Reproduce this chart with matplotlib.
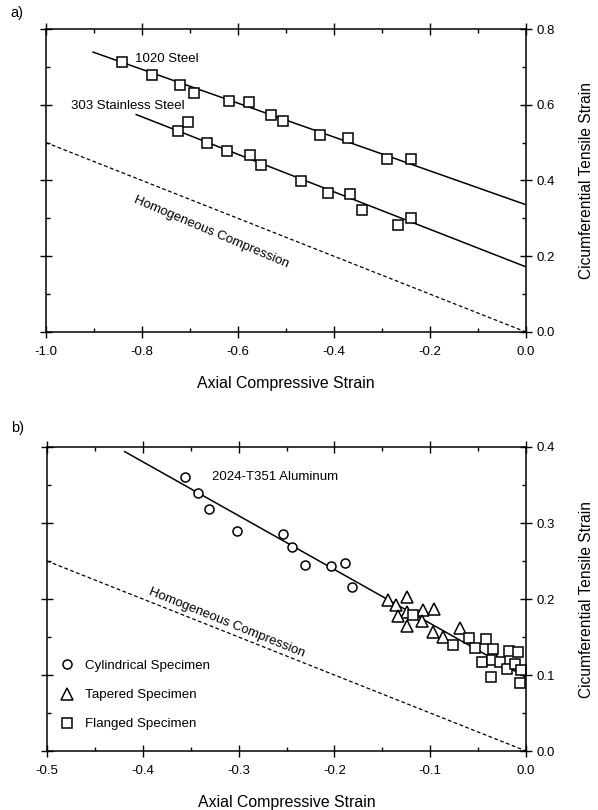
import numpy as np
import matplotlib
matplotlib.use('Agg')
import matplotlib.pyplot as plt
from matplotlib.ticker import MultipleLocator, FormatStrFormatter

plt.rcParams['font.family'] = ['Liberation Sans', 'DejaVu Sans']
plt.rcParams['axes.unicode_minus'] = False

# ---- panel a) data ----
steel1020_x = [-0.842, -0.780, -0.720, -0.692, -0.619, -0.578, -0.532, -0.506,
               -0.430, -0.370, -0.290, -0.239]
steel1020_y = [0.713, 0.678, 0.652, 0.631, 0.610, 0.606, 0.573, 0.557,
               0.521, 0.511, 0.456, 0.456]
fit1020_x = [-0.902, 0.0]
fit1020_y = [0.739, 0.336]

ss303_x = [-0.726, -0.704, -0.664, -0.622, -0.574, -0.553, -0.469, -0.413,
           -0.366, -0.341, -0.266, -0.239]
ss303_y = [0.530, 0.555, 0.499, 0.477, 0.467, 0.441, 0.400, 0.367,
           0.365, 0.323, 0.283, 0.301]
fit303_x = [-0.812, 0.0]
fit303_y = [0.574, 0.172]

homog_a_x = [-1.0, 0.0]
homog_a_y = [0.5, 0.0]

# ---- panel b) data ----
cyl_x = [-0.356, -0.342, -0.331, -0.302, -0.254, -0.244, -0.231, -0.204, -0.189, -0.182]
cyl_y = [0.360, 0.339, 0.319, 0.289, 0.285, 0.269, 0.245, 0.244, 0.247, 0.216]

tap_x = [-0.144, -0.136, -0.124, -0.124, -0.134, -0.124, -0.107, -0.096,
         -0.109, -0.097, -0.087, -0.069]
tap_y = [0.199, 0.192, 0.202, 0.183, 0.177, 0.165, 0.186, 0.187,
         0.171, 0.156, 0.150, 0.162]

fla_x = [-0.118, -0.076, -0.059, -0.053, -0.042, -0.034, -0.046, -0.035,
         -0.037, -0.027, -0.018, -0.020, -0.012, -0.008, -0.005, -0.006]
fla_y = [0.179, 0.139, 0.149, 0.135, 0.147, 0.134, 0.117, 0.120,
         0.097, 0.117, 0.131, 0.108, 0.115, 0.130, 0.106, 0.090]

fitAl_x = [-0.419, 0.0]
fitAl_y = [0.394, 0.097]

homog_b_x = [-0.5, 0.0]
homog_b_y = [0.25, 0.0]

W, H = 598, 810
fig = plt.figure(figsize=(W / 100, H / 100), dpi=100)


def px_axes(l, t, r, b):
    return fig.add_axes([l / W, 1 - b / H, (r - l) / W, (b - t) / H])


def style_axes(ax, xmaj, xmin, ymaj, ymin):
    ax.xaxis.set_major_locator(MultipleLocator(xmaj))
    ax.xaxis.set_minor_locator(MultipleLocator(xmin))
    ax.yaxis.set_major_locator(MultipleLocator(ymaj))
    ax.yaxis.set_minor_locator(MultipleLocator(ymin))
    ax.xaxis.set_major_formatter(FormatStrFormatter('%.1f'))
    ax.yaxis.set_major_formatter(FormatStrFormatter('%.1f'))
    ax.tick_params(which='major', direction='inout', length=8.5, width=1.0,
                   top=True, right=True, left=True, bottom=True,
                   labelleft=False, labelright=True, labelsize=9.5)
    ax.tick_params(axis='x', which='major', pad=5.5)
    ax.tick_params(axis='y', which='major', pad=3)
    ax.tick_params(which='minor', direction='in', length=3, width=1.0,
                   top=True, right=True, left=True, bottom=True)
    for s in ax.spines.values():
        s.set_linewidth(1.1)
    ax.yaxis.set_label_position('right')
    ax.set_xlabel('Axial Compressive Strain', fontsize=11.4, labelpad=13)
    ax.set_ylabel('Cicumferential Tensile Strain', fontsize=11.2, labelpad=17.5)


sq = dict(marker='s', ms=7.3, mfc='white', mec='black', mew=1.1, ls='none', clip_on=False)

# ---- panel a ----
ax1 = px_axes(46, 29, 526, 332)
ax1.plot(fit1020_x, fit1020_y, color='black', lw=1.1)
ax1.plot(fit303_x, fit303_y, color='black', lw=1.1)
ax1.plot(homog_a_x, homog_a_y, color='black', lw=0.9, ls=(0, (3, 2)))
ax1.plot(steel1020_x, steel1020_y, **sq)
ax1.plot(ss303_x, ss303_y, **sq)
ax1.text(-0.814, 0.722, '1020 Steel', fontsize=9.5, va='center', ha='left')
ax1.text(-0.948, 0.598, '303 Stainless Steel', fontsize=9.5, va='center', ha='left')
ax1.text(-0.812, 0.364, 'Homogeneous Compression', fontsize=9.5, rotation=-23,
         rotation_mode='anchor', ha='left', va='top')
ax1.set_xlim(-1.0, 0.0)
ax1.set_ylim(0.0, 0.8)
style_axes(ax1, 0.2, 0.1, 0.2, 0.1)
fig.text(17 / W, 1 - 13 / H, 'a)', fontsize=10.5, ha='center', va='center')

# ---- panel b ----
ax2 = px_axes(47, 447, 526, 751)
ax2.plot(fitAl_x, fitAl_y, color='black', lw=1.1)
ax2.plot(homog_b_x, homog_b_y, color='black', lw=0.9, ls=(0, (3, 2)))
ax2.plot(cyl_x, cyl_y, marker='o', ms=6.5, mfc='white', mec='black', mew=1.1,
         ls='none', clip_on=False, label='Cylindrical Specimen')
ax2.plot(tap_x, tap_y, marker='^', ms=8, mfc='white', mec='black', mew=1.1,
         ls='none', clip_on=False, label='Tapered Specimen')
ax2.plot(fla_x, fla_y, marker='s', ms=6.5, mfc='white', mec='black', mew=1.1,
         ls='none', clip_on=False, label='Flanged Specimen')
ax2.text(-0.328, 0.360, '2024-T351 Aluminum', fontsize=9.5, va='center', ha='left')
ax2.text(-0.3905, 0.217, 'Homogeneous Compression', fontsize=9.5, rotation=-22,
         rotation_mode='anchor', ha='left', va='top')
ax2.set_xlim(-0.5, 0.0)
ax2.set_ylim(0.0, 0.4)
style_axes(ax2, 0.1, 0.05, 0.1, 0.05)
ax2.legend(loc='lower left', bbox_to_anchor=(0.027, 0.068), frameon=False,
           fontsize=9.6, handlelength=1.0, handletextpad=0.9, labelspacing=1.26,
           borderpad=0, borderaxespad=0)
fig.text(18 / W, 1 - 428 / H, 'b)', fontsize=10.5, ha='center', va='center')

fig.savefig('out.png', dpi=100)
print("Image generation complete")
